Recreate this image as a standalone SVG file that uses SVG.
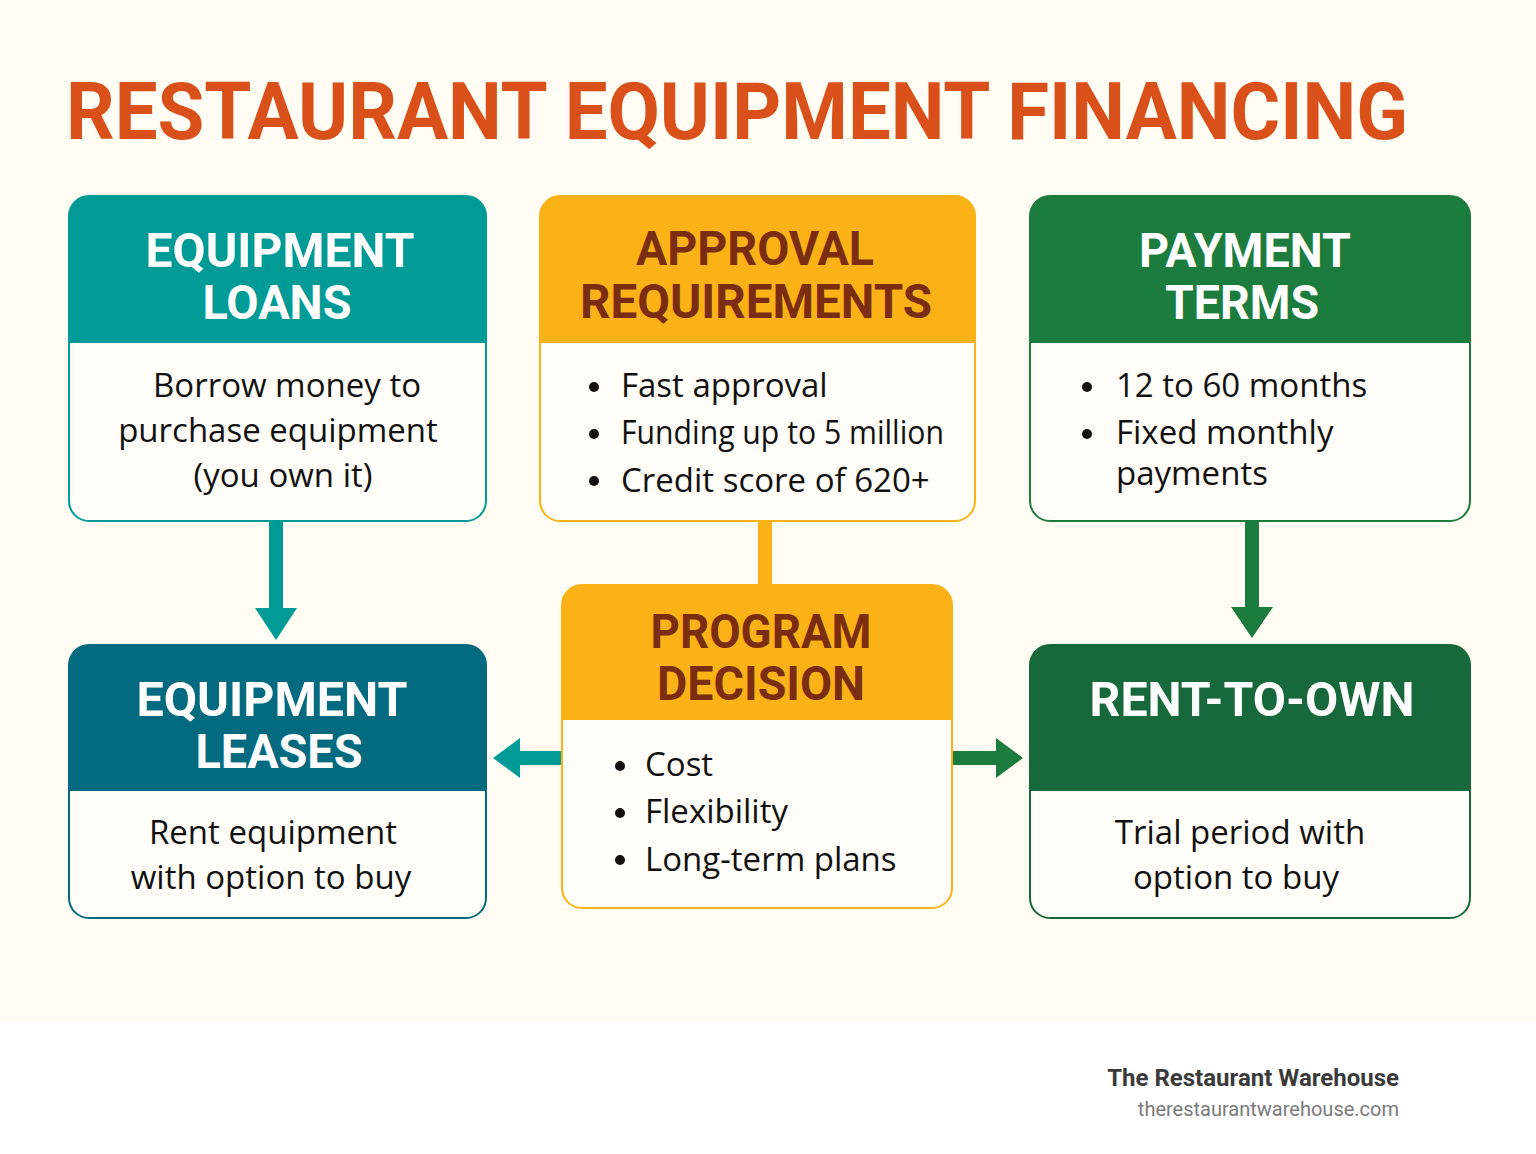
<svg xmlns="http://www.w3.org/2000/svg" width="1536" height="1154" viewBox="0 0 1536 1154">
<style>
.title{font-family:Roboto,"Liberation Sans",sans-serif;font-weight:700;font-size:80px;fill:#D9501A}
.hw{font-family:Roboto,"Liberation Sans",sans-serif;font-weight:700;font-size:48px;fill:#FFFFFF;text-anchor:middle}
.hb{font-family:Roboto,"Liberation Sans",sans-serif;font-weight:700;font-size:48px;fill:#7B2D12;text-anchor:middle}
.body{font-family:"Open Sans","Noto Sans",sans-serif;font-size:33px;fill:#111111}
.c{text-anchor:middle}
.f1{font-family:Roboto,"Liberation Sans",sans-serif;font-weight:700;font-size:24px;fill:#3A3A3A;text-anchor:end}
.f2{font-family:Roboto,"Liberation Sans",sans-serif;font-size:20px;fill:#7A7A7A;text-anchor:end}
.card{fill:#FFFDF7;stroke-width:2}
</style>
<rect x="0" y="0" width="1536" height="1154" fill="#FFFFFF"/>
<rect x="0" y="0" width="1536" height="1022" fill="#FFFCF3"/>
<text class="title" x="66" y="139" textLength="1342" lengthAdjust="spacingAndGlyphs">RESTAURANT EQUIPMENT FINANCING</text>

<g id="connectors">
  <path d="M269 521 H283 V608 H297 L276 640 L255 608 H269 Z" fill="#009B96"/>
  <rect x="758" y="521" width="14" height="65" fill="#FBB216"/>
  <path d="M1245 521 H1259 V607 H1273 L1252 638 L1231 607 H1245 Z" fill="#1B7C3E"/>
  <path d="M562 751 V765 H520 V778 L493 758 L520 738 V751 Z" fill="#009B96"/>
  <path d="M952 751 V765 H996 V778 L1023 758 L996 738 V751 Z" fill="#1B7C3E"/>
</g>

<g id="equipment-loans">
  <rect class="card" x="69" y="196" width="417" height="325" rx="20" stroke="#009B96"/>
  <path d="M69 343 V216 A20 20 0 0 1 89 196 H466 A20 20 0 0 1 486 216 V343 Z" fill="#009B96"/>
  <text class="hw" x="280" y="267" textLength="269" lengthAdjust="spacingAndGlyphs">EQUIPMENT</text>
  <text class="hw" x="277" y="319" textLength="149" lengthAdjust="spacingAndGlyphs">LOANS</text>
  <text class="body c" x="287" y="397">Borrow money to</text>
  <text class="body c" x="278" y="442">purchase equipment</text>
  <text class="body c" x="283" y="487">(you own it)</text>
</g>

<g id="approval-requirements">
  <rect class="card" x="540" y="196" width="435" height="325" rx="20" stroke="#FBB216"/>
  <path d="M540 343 V216 A20 20 0 0 1 560 196 H955 A20 20 0 0 1 975 216 V343 Z" fill="#FBB216"/>
  <text class="hb" x="755" y="265" textLength="238" lengthAdjust="spacingAndGlyphs">APPROVAL</text>
  <text class="hb" x="756" y="318" textLength="352" lengthAdjust="spacingAndGlyphs">REQUIREMENTS</text>
  <circle cx="594" cy="387" r="5" fill="#111"/>
  <circle cx="594" cy="434" r="5" fill="#111"/>
  <circle cx="594" cy="481" r="5" fill="#111"/>
  <text class="body" x="621" y="397">Fast approval</text>
  <text class="body" x="621" y="444" textLength="323" lengthAdjust="spacingAndGlyphs">Funding up to 5 million</text>
  <text class="body" x="621" y="492">Credit score of 620+</text>
</g>

<g id="payment-terms">
  <rect class="card" x="1030" y="196" width="440" height="325" rx="20" stroke="#1B7C3E"/>
  <path d="M1030 343 V216 A20 20 0 0 1 1050 196 H1450 A20 20 0 0 1 1470 216 V343 Z" fill="#1B7C3E"/>
  <text class="hw" x="1245" y="267" textLength="212" lengthAdjust="spacingAndGlyphs">PAYMENT</text>
  <text class="hw" x="1242" y="319" textLength="154" lengthAdjust="spacingAndGlyphs">TERMS</text>
  <circle cx="1087" cy="387" r="5" fill="#111"/>
  <circle cx="1087" cy="434" r="5" fill="#111"/>
  <text class="body" x="1116" y="397">12 to 60 months</text>
  <text class="body" x="1116" y="444">Fixed monthly</text>
  <text class="body" x="1116" y="485">payments</text>
</g>

<g id="equipment-leases">
  <rect class="card" x="69" y="645" width="417" height="273" rx="20" stroke="#046A80"/>
  <path d="M69 791 V665 A20 20 0 0 1 89 645 H466 A20 20 0 0 1 486 665 V791 Z" fill="#046A80"/>
  <text class="hw" x="272" y="716" textLength="271" lengthAdjust="spacingAndGlyphs">EQUIPMENT</text>
  <text class="hw" x="279" y="768" textLength="167" lengthAdjust="spacingAndGlyphs">LEASES</text>
  <text class="body c" x="273" y="844">Rent equipment</text>
  <text class="body c" x="271" y="889">with option to buy</text>
</g>

<g id="program-decision">
  <rect class="card" x="562" y="585" width="390" height="323" rx="20" stroke="#FBB216"/>
  <path d="M562 720 V605 A20 20 0 0 1 582 585 H932 A20 20 0 0 1 952 605 V720 Z" fill="#FBB216"/>
  <text class="hb" x="761" y="648" textLength="221" lengthAdjust="spacingAndGlyphs">PROGRAM</text>
  <text class="hb" x="761" y="700" textLength="208" lengthAdjust="spacingAndGlyphs">DECISION</text>
  <circle cx="620" cy="766" r="5" fill="#111"/>
  <circle cx="620" cy="813" r="5" fill="#111"/>
  <circle cx="620" cy="860" r="5" fill="#111"/>
  <text class="body" x="645" y="776">Cost</text>
  <text class="body" x="645" y="823">Flexibility</text>
  <text class="body" x="645" y="871">Long-term plans</text>
</g>

<g id="rent-to-own">
  <rect class="card" x="1030" y="645" width="440" height="273" rx="20" stroke="#17683A"/>
  <path d="M1030 791 V665 A20 20 0 0 1 1050 645 H1450 A20 20 0 0 1 1470 665 V791 Z" fill="#17683A"/>
  <text class="hw" x="1252" y="716" textLength="325" lengthAdjust="spacingAndGlyphs">RENT-TO-OWN</text>
  <text class="body c" x="1240" y="844">Trial period with</text>
  <text class="body c" x="1236" y="889">option to buy</text>
</g>

<g id="footer">
  <text class="f1" x="1399" y="1086">The Restaurant Warehouse</text>
  <text class="f2" x="1399" y="1116">therestaurantwarehouse.com</text>
</g>
</svg>
